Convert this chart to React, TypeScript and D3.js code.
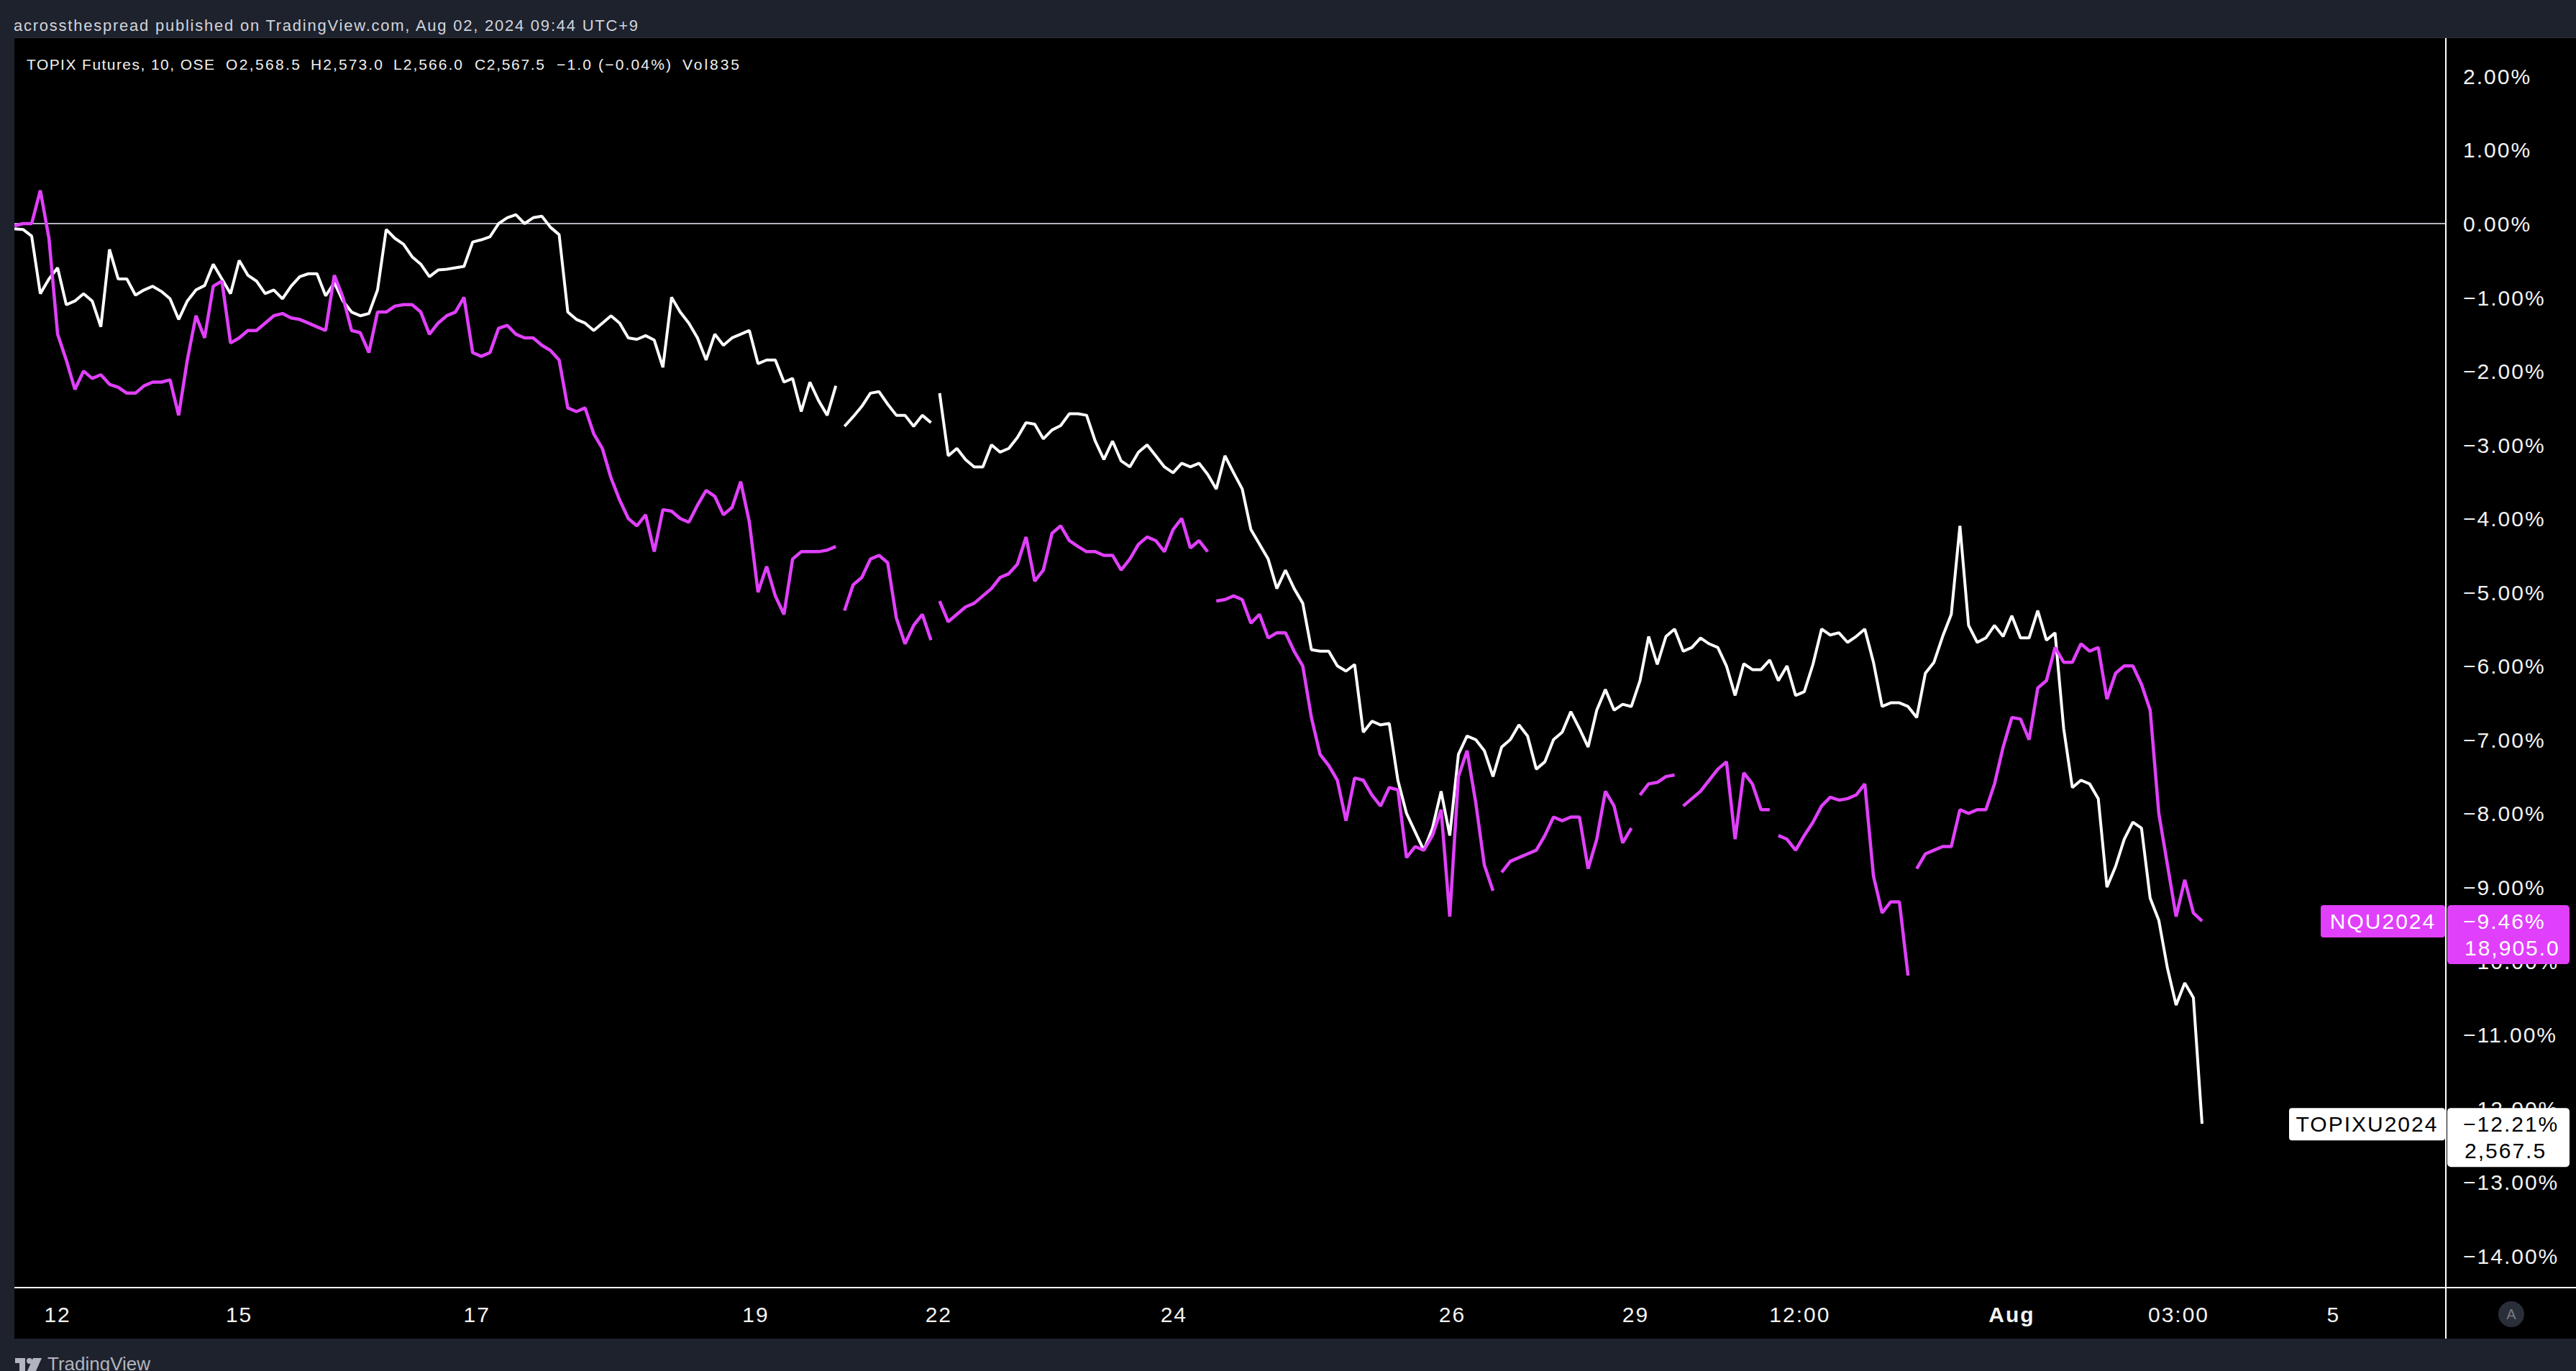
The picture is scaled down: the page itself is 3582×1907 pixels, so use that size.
import React, { useEffect } from "react";
import * as d3 from "d3";

// ---------------- DATA ----------------
// % change from start, sampled on 10-minute bar index grid (TOPIX futures, Sep 2024 contract)
const topixPct = [
  -0.07, -0.08, -0.17, -0.95, -0.75, -0.6, -1.1, -1.05, -0.95, -1.05,
  -1.4, -0.35, -0.75, -0.75, -0.97, -0.9, -0.85, -0.92, -1.02, -1.3,
  -1.05, -0.9, -0.84, -0.55, -0.75, -0.95, -0.5, -0.7, -0.78, -0.95,
  -0.9, -1.02, -0.85, -0.72, -0.68, -0.68, -0.98, -0.8, -1.05, -1.2,
  -1.25, -1.22, -0.9, -0.08, -0.2, -0.28, -0.45, -0.55, -0.72, -0.63,
  -0.62, -0.6, -0.58, -0.25, -0.22, -0.18, 0.0, 0.08, 0.12, 0.0,
  0.08, 0.1, -0.05, -0.15, -1.2, -1.3, -1.35, -1.45, -1.35, -1.25,
  -1.35, -1.55, -1.57, -1.52, -1.58, -1.95, -1.0, -1.2, -1.35, -1.55,
  -1.85, -1.5, -1.65, -1.55, -1.5, -1.45, -1.9, -1.85, -1.85, -2.15,
  -2.1, -2.55, -2.15, -2.4, -2.6, -2.2, -2.75, -2.62, -2.48, -2.3,
  -2.28, -2.45, -2.6, -2.6, -2.75, -2.6, -2.7, -2.3, -3.15, -3.05,
  -3.2, -3.3, -3.3, -3.0, -3.1, -3.05, -2.9, -2.7, -2.72, -2.92,
  -2.8, -2.74, -2.58, -2.58, -2.6, -2.95, -3.2, -2.95, -3.22, -3.3,
  -3.1, -3.0, -3.15, -3.3, -3.38, -3.25, -3.3, -3.25, -3.4, -3.6,
  -3.15, -3.38, -3.6, -4.15, -4.35, -4.55, -4.95, -4.7, -4.95, -5.15,
  -5.78, -5.8, -5.8, -6.0, -6.07, -5.98, -6.9, -6.75, -6.8, -6.78,
  -7.55, -8.0, -8.25, -8.5, -8.2, -7.7, -8.3, -7.2, -6.95, -7.0,
  -7.15, -7.5, -7.1, -7.0, -6.8, -6.95, -7.4, -7.3, -7.0, -6.9,
  -6.62, -6.85, -7.1, -6.6, -6.32, -6.6, -6.52, -6.55, -6.2, -5.6,
  -5.98, -5.6, -5.5, -5.8, -5.75, -5.62, -5.7, -5.75, -6.0, -6.4,
  -5.97, -6.05, -6.05, -5.92, -6.2, -6.0, -6.4, -6.35, -5.98, -5.5,
  -5.58, -5.55, -5.68, -5.6, -5.5, -5.95, -6.55, -6.5, -6.5, -6.55,
  -6.7, -6.1, -5.95, -5.6, -5.3, -4.1, -5.45, -5.68, -5.62, -5.45,
  -5.6, -5.32, -5.62, -5.62, -5.25, -5.65, -5.55, -6.85, -7.65, -7.55,
  -7.6, -7.8, -9.0, -8.72, -8.35, -8.12, -8.2, -9.15, -9.45, -10.1,
  -10.6, -10.3, -10.5, -12.21,
];

// NQ (Nasdaq 100 futures, Sep 2024 contract) % change, same grid
const nqPct = [
  -0.03, 0.0, 0.0, 0.45, -0.2, -1.5, -1.85, -2.25, -2.0, -2.1,
  -2.05, -2.18, -2.22, -2.3, -2.3, -2.2, -2.15, -2.15, -2.12, -2.6,
  -1.85, -1.25, -1.55, -0.85, -0.78, -1.62, -1.55, -1.45, -1.45, -1.35,
  -1.25, -1.22, -1.28, -1.3, -1.35, -1.4, -1.45, -0.7, -1.0, -1.45,
  -1.48, -1.75, -1.2, -1.2, -1.12, -1.1, -1.1, -1.2, -1.5, -1.35,
  -1.25, -1.2, -1.0, -1.75, -1.8, -1.75, -1.42, -1.38, -1.5, -1.55,
  -1.55, -1.65, -1.72, -1.85, -2.5, -2.55, -2.5, -2.85, -3.05, -3.45,
  -3.75, -4.0, -4.1, -3.95, -4.45, -3.88, -3.9, -4.0, -4.05, -3.82,
  -3.62, -3.7, -3.95, -3.85, -3.5, -4.05, -5.0, -4.65, -5.05, -5.3,
  -4.55, -4.45, -4.45, -4.45, -4.43, -4.38, -5.25, -4.9, -4.8, -4.55,
  -4.5, -4.6, -5.35, -5.7, -5.45, -5.3, -5.65, -5.12, -5.4, -5.3,
  -5.2, -5.15, -5.05, -4.95, -4.8, -4.75, -4.62, -4.25, -4.85, -4.7,
  -4.2, -4.1, -4.3, -4.38, -4.45, -4.45, -4.5, -4.5, -4.7, -4.55,
  -4.35, -4.25, -4.3, -4.45, -4.15, -4.0, -4.4, -4.3, -4.45, -5.12,
  -5.1, -5.05, -5.1, -5.42, -5.3, -5.62, -5.55, -5.55, -5.8, -6.0,
  -6.7, -7.2, -7.35, -7.55, -8.1, -7.52, -7.55, -7.75, -7.9, -7.65,
  -7.68, -8.6, -8.45, -8.5, -8.3, -7.95, -9.4, -7.5, -7.15, -7.85,
  -8.7, -9.05, -8.8, -8.65, -8.6, -8.55, -8.5, -8.3, -8.05, -8.1,
  -8.05, -8.05, -8.75, -8.35, -7.7, -7.9, -8.4, -8.2, -7.75, -7.6,
  -7.58, -7.5, -7.48, -7.9, -7.8, -7.7, -7.55, -7.4, -7.3, -8.35,
  -7.45, -7.6, -7.95, -7.95, -8.3, -8.35, -8.5, -8.3, -8.12, -7.9,
  -7.78, -7.82, -7.8, -7.75, -7.6, -8.85, -9.35, -9.2, -9.2, -10.2,
  -8.75, -8.55, -8.5, -8.45, -8.45, -7.95, -8.0, -7.95, -7.95, -7.6,
  -7.1, -6.7, -6.72, -7.0, -6.3, -6.2, -5.75, -5.95, -5.95, -5.7,
  -5.8, -5.75, -6.45, -6.1, -6.0, -6.0, -6.25, -6.6, -8.0, -8.7,
  -9.4, -8.9, -9.35, -9.46,
];

// session breaks (index where a new session segment starts)
const topixBreaks = [96, 107];
const nqBreaks = [96, 107, 139, 172, 188, 193, 204, 220];

// time axis labels and their bar positions on the same grid
const xTickLabels = ["12", "15", "17", "19", "22", "24", "26", "29", "12:00", "Aug", "03:00", "5"];
const xTickBars = [5, 26, 53.5, 85.75, 106.9, 134.1, 166.3, 187.5, 206.5, 231, 250.3, 268.2];
const xTickBold = ["Aug"];

// percent axis ticks
const yTicks = [2, 1, 0, -1, -2, -3, -4, -5, -6, -7, -8, -9, -10, -11, -12, -13, -14];

const seriesNames = ["TOPIXU2024", "NQU2024"];
const lastPrices = ["2,567.5", "18,905.0"];

const headerText = "acrossthespread published on TradingView.com, Aug 02, 2024 09:44 UTC+9";
const legendTexts = [
  "TOPIX Futures, 10, OSE",
  "O2,568.5",
  "H2,573.0",
  "L2,566.0",
  "C2,567.5",
  "\u22121.0 (\u22120.04%)",
  "Vol835",
];

// ---------------- LAYOUT ----------------
const W = 3582;
const H = 1907;
const PLOT_L = 20;
const PLOT_T = 53;
const AXIS_X = 3401;
const XAXIS_Y = 1791;
const PLOT_B = 1862;
const legendLayout = [
  { x: 37, len: 261 },
  { x: 314, len: 103 },
  { x: 432, len: 100 },
  { x: 547, len: 96 },
  { x: 660, len: 97 },
  { x: 774, len: 159 },
  { x: 949, len: 79 },
];

const FONT = "'Liberation Sans', Arial, Helvetica, sans-serif";
const MAGENTA = "#e040fb";
const BG_DARK = "#1e222d";

const fmtPct = (v: number) => (v < 0 ? "\u2212" : "") + Math.abs(v).toFixed(2) + "%";

function segments(n: number, breaks: number[]) {
  const cuts = [0, ...breaks, n];
  const out: number[][] = [];
  for (let k = 0; k < cuts.length - 1; k++) out.push(d3.range(cuts[k], cuts[k + 1]));
  return out;
}

export default function App() {
  useEffect(() => {
    document.body.style.margin = "0";
    document.body.style.overflow = "hidden";
    document.body.style.background = "#000";
  }, []);

  const x = d3.scaleLinear().domain([0, topixPct.length - 1]).range([PLOT_L, 3062]);
  const y = d3.scaleLinear().domain([0, -14]).range([311, 1746.7]);

  const mkLine = (vals: number[]) =>
    d3
      .line<number>()
      .x((i) => x(i))
      .y((i) => y(vals[i]))
      .curve(d3.curveLinear);

  const topixLine = mkLine(topixPct);
  const nqLine = mkLine(nqPct);

  const topixSegs = segments(topixPct.length, topixBreaks);
  const nqSegs = segments(nqPct.length, nqBreaks);

  const last = topixPct.length - 1;
  const topixLast = topixPct[last];
  const nqLast = nqPct[last];

  const labelBoxes = [
    { name: seriesNames[1], pct: nqLast, price: lastPrices[1], fill: MAGENTA, text: "#ffffff", nameW: 173 },
    { name: seriesNames[0], pct: topixLast, price: lastPrices[0], fill: "#ffffff", text: "#000000", nameW: 217 },
  ];

  return (
    <svg
      width={W}
      height={H}
      viewBox={`0 0 ${W} ${H}`}
      style={{ position: "absolute", left: 0, top: 0, display: "block" }}
      fontFamily={FONT}
    >
      <defs>
        <clipPath id="plotClip">
          <rect x={PLOT_L} y={PLOT_T} width={AXIS_X - PLOT_L - 1} height={XAXIS_Y - PLOT_T - 1} />
        </clipPath>
      </defs>
      {/* frame */}
      <rect x={0} y={0} width={W} height={H} fill={BG_DARK} />
      <rect x={PLOT_L} y={PLOT_T} width={W - PLOT_L} height={PLOT_B - PLOT_T} fill="#000000" />
      <line x1={PLOT_L} x2={W} y1={PLOT_T - 0.5} y2={PLOT_T - 0.5} stroke="#2a2e39" strokeWidth={1} />

      {/* header */}
      <text x={19} y={43} fontSize={22} fill="#d1d4dc" textLength={868} lengthAdjust="spacing">
        {headerText}
      </text>

      {/* zero baseline */}
      <line x1={PLOT_L} x2={AXIS_X} y1={y(0)} y2={y(0)} stroke="#b2b5be" strokeWidth={2} />

      {/* series */}
      <g clipPath="url(#plotClip)" fill="none" strokeLinejoin="bevel" strokeLinecap="butt">
        {topixSegs.map((s, k) => (
          <path key={"t" + k} d={topixLine(s) || ""} stroke="#ffffff" strokeWidth={4} />
        ))}
        {nqSegs.map((s, k) => (
          <path key={"n" + k} d={nqLine(s) || ""} stroke={MAGENTA} strokeWidth={4.5} />
        ))}
      </g>

      {/* legend */}
      {legendTexts.map((t, k) => (
        <text
          key={"lg" + k}
          x={legendLayout[k].x}
          y={97}
          fontSize={21}
          fill="#f0f0f0"
          textLength={legendLayout[k].len}
          lengthAdjust="spacing"
        >
          {t}
        </text>
      ))}

      {/* axes lines */}
      <line x1={AXIS_X} x2={AXIS_X} y1={PLOT_T} y2={PLOT_B} stroke="#ffffff" strokeWidth={2} />
      <line x1={PLOT_L} x2={W} y1={XAXIS_Y} y2={XAXIS_Y} stroke="#ffffff" strokeWidth={2} />

      {/* y axis labels */}
      {yTicks.map((v) => (
        <text key={"y" + v} x={3425} y={y(v) + 11} fontSize={30} letterSpacing={2} fill="#f2f2f2">
          {fmtPct(v)}
        </text>
      ))}

      {/* x axis labels */}
      {xTickLabels.map((lab, k) => (
        <text
          key={"x" + k}
          x={x(xTickBars[k])}
          y={1839}
          fontSize={30}
          letterSpacing={2}
          textAnchor="middle"
          fontWeight={xTickBold.includes(lab) ? "bold" : "normal"}
          fill="#f2f2f2"
        >
          {lab}
        </text>
      ))}

      {/* last value labels */}
      {labelBoxes.map((b, k) => {
        const yy = y(b.pct);
        return (
          <g key={"lb" + k}>
            <rect x={AXIS_X - 1 - b.nameW} y={yy - 22} width={b.nameW} height={45} rx={4} fill={b.fill} />
            <text
              x={AXIS_X - 1 - b.nameW / 2}
              y={yy + 11}
              fontSize={30}
              letterSpacing={2}
              textAnchor="middle"
              fill={b.text}
            >
              {b.name}
            </text>
            <rect x={AXIS_X + 2} y={yy - 22} width={170} height={82} rx={5} fill={b.fill} />
            <text x={3425} y={yy + 11} fontSize={30} letterSpacing={2} fill={b.text}>
              {fmtPct(b.pct)}
            </text>
            <text x={3427} y={yy + 48} fontSize={30} letterSpacing={2} fill={b.text}>
              {b.price}
            </text>
          </g>
        );
      })}

      {/* auto-scale button */}
      <circle cx={3492} cy={1828} r={18} fill="#2a2e39" />
      <text x={3492} y={1835} fontSize={20} textAnchor="middle" fill="#787b86">
        A
      </text>

      {/* footer logo */}
      <g fill="#b2b5be">
        <rect x={21} y={1889} width={14} height={7} />
        <rect x={27} y={1889} width={8} height={18} />
        <circle cx={41} cy={1893} r={4} />
        <polygon points="46,1889 58,1889 50,1907 38,1907" />
      </g>
      <text x={66} y={1906} fontSize={26} fill="#b2b5be">
        TradingView
      </text>
    </svg>
  );
}
